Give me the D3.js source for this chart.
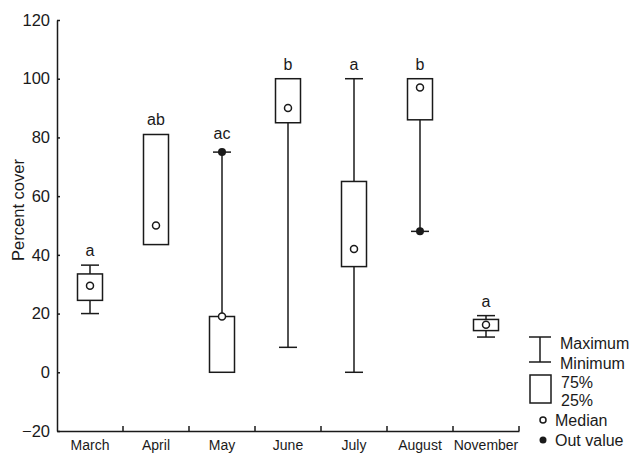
<!DOCTYPE html>
<html><head><meta charset="utf-8">
<script src="https://cdn.jsdelivr.net/npm/d3@7"></script>
<style>body{margin:0;background:#fff;}svg{display:block;font-family:"Liberation Sans",Arial,sans-serif;}</style>
</head><body><svg id="c" width="636" height="455"></svg>
<script>
const months = ["March","April","May","June","July","August","November"];
const q1 = [24.5, 43.5, 0, 85, 36, 86, 14.2];
const q3 = [33.5, 81, 19, 100, 65, 100, 18];
const medians = [29.5, 50, 19, 90, 42, 97, 16.2];
const whiskerMin = [20, null, null, 8.5, 0, null, 12];
const whiskerMax = [36.5, null, null, null, 100, null, 19.3];
const outValues = [null, null, 75, null, null, 48, null];
const letters = ["a","ab","ac","b","a","b","a"];
const yTicks = [-20, 0, 20, 40, 60, 80, 100, 120];

const data = months.map((m,i)=>({m, q1:q1[i], q3:q3[i], med:medians[i], wmin:whiskerMin[i], wmax:whiskerMax[i], out:outValues[i], letter:letters[i]}));

const svg = d3.select("#c");
const ink = "#1a1a1a";
const x = d3.scaleBand().domain(months).range([57, 519]);
const y = d3.scaleLinear().domain([-20, 120]).range([431, 20]);
const boxW = 25, capW = 18;

// Y axis
const ya = svg.append("g").attr("transform","translate(57,0)")
  .call(d3.axisLeft(y).tickValues(yTicks).tickSizeInner(-3).tickSizeOuter(0).tickPadding(7));
ya.selectAll("text").attr("font-size",16.5).attr("fill",ink).attr("font-family","Liberation Sans, Arial, sans-serif");
ya.selectAll("line,path").attr("stroke",ink).attr("stroke-width",1.5);

// X axis
const xa = svg.append("g").attr("transform","translate(0,431)")
  .call(d3.axisBottom(x).tickSize(0).tickPadding(9));
xa.selectAll("text").attr("font-size",14).attr("fill",ink).attr("font-family","Liberation Sans, Arial, sans-serif");
xa.select("path").attr("stroke",ink).attr("stroke-width",1.5);
svg.append("g").selectAll("line").data(months).join("line")
  .attr("x1",d=>x(d)+x.bandwidth()).attr("x2",d=>x(d)+x.bandwidth())
  .attr("y1",431).attr("y2",426).attr("stroke",ink).attr("stroke-width",1.5);

// Y label
svg.append("text").attr("transform","translate(24,210) rotate(-90)")
  .attr("text-anchor","middle").attr("font-size",16.5).attr("fill",ink).text("Percent cover");

const g = svg.append("g").attr("stroke",ink).attr("stroke-width",1.5);
data.forEach(d=>{
  const cx = x(d.m) + x.bandwidth()/2;
  const gg = g.append("g");
  if (d.wmin != null) {
    gg.append("line").attr("x1",cx).attr("x2",cx).attr("y1",y(d.q1)).attr("y2",y(d.wmin));
    gg.append("line").attr("x1",cx-capW/2).attr("x2",cx+capW/2).attr("y1",y(d.wmin)).attr("y2",y(d.wmin));
  }
  if (d.wmax != null) {
    gg.append("line").attr("x1",cx).attr("x2",cx).attr("y1",y(d.q3)).attr("y2",y(d.wmax));
    gg.append("line").attr("x1",cx-capW/2).attr("x2",cx+capW/2).attr("y1",y(d.wmax)).attr("y2",y(d.wmax));
  }
  if (d.out != null) {
    const edge = d.out > d.q3 ? d.q3 : d.q1;
    gg.append("line").attr("x1",cx).attr("x2",cx).attr("y1",y(edge)).attr("y2",y(d.out));
    gg.append("line").attr("x1",cx-capW/2).attr("x2",cx+capW/2).attr("y1",y(d.out)).attr("y2",y(d.out));
    gg.append("circle").attr("cx",cx).attr("cy",y(d.out)).attr("r",4).attr("fill",ink).attr("stroke","none");
  }
  gg.append("rect").attr("x",cx-boxW/2).attr("width",boxW).attr("y",y(d.q3)).attr("height",y(d.q1)-y(d.q3)).attr("fill","none");
  gg.append("circle").attr("cx",cx).attr("cy",y(d.med)).attr("r",3.5).attr("fill","#fff");
  const top = Math.max(d.q3, d.wmax ?? -Infinity, d.out ?? -Infinity);
  const off = (d.out != null && d.out >= top) ? 13 : 9;
  svg.append("text").attr("x",cx).attr("y",y(top)-off).attr("text-anchor","middle")
    .attr("font-size",16).attr("fill",ink).text(d.letter);
});

// Legend
const lg = svg.append("g").attr("stroke",ink).attr("stroke-width",1.5);
lg.append("line").attr("x1",529).attr("x2",551).attr("y1",337).attr("y2",337);
lg.append("line").attr("x1",529).attr("x2",551).attr("y1",362).attr("y2",362);
lg.append("line").attr("x1",540).attr("x2",540).attr("y1",337).attr("y2",362);
lg.append("rect").attr("x",530).attr("y",375).attr("width",21).attr("height",28).attr("fill","none");
lg.append("circle").attr("cx",543).attr("cy",420).attr("r",3).attr("fill","#fff");
lg.append("circle").attr("cx",543).attr("cy",440).attr("r",3.5).attr("fill",ink).attr("stroke","none");
const lt = [["Maximum",560,349],["Minimum",560,369],["75%",561,388],["25%",561,406],["Median",555,426],["Out value",555,446]];
svg.append("g").selectAll("text").data(lt).join("text")
  .attr("x",d=>d[1]).attr("y",d=>d[2]).attr("font-size",16).attr("fill",ink).text(d=>d[0]);
</script></body></html>
